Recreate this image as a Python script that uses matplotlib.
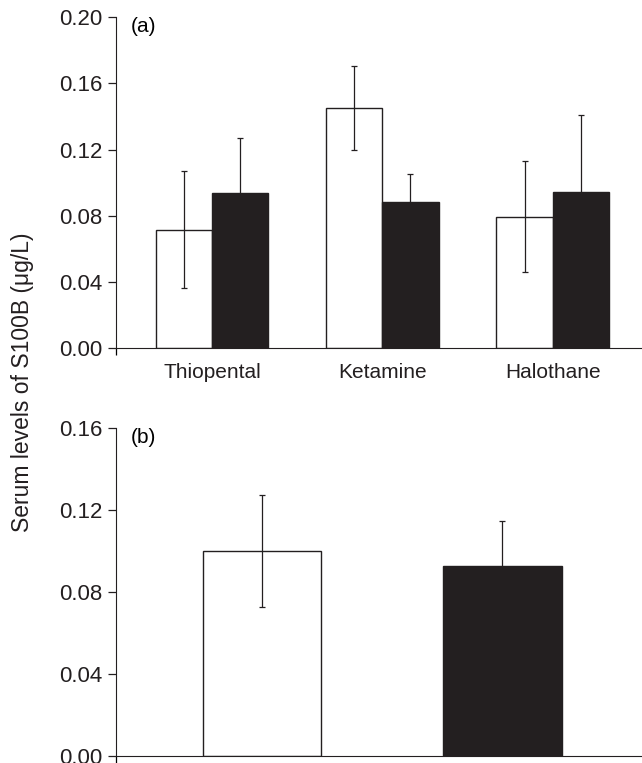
import numpy as np
import matplotlib.pyplot as plt

plt.rcParams['font.family'] = ['Liberation Sans', 'DejaVu Sans']

# panel (a)
drugs = ['Thiopental', 'Ketamine', 'Halothane']
open_mean = [0.0716, 0.1452, 0.0794]
open_err = [0.0352, 0.0256, 0.0335]
filled_mean = [0.0940, 0.0885, 0.0946]
filled_err = [0.0328, 0.0165, 0.0461]

# panel (b)
b_mean = [0.0998, 0.0925]
b_err = [0.0272, 0.0222]

dark = '#231f20'

fig = plt.figure(figsize=(6.42, 7.63), dpi=100)
ax = fig.add_axes([0.1808, 0.5439, 0.8192, 0.4334])
ax1 = fig.add_axes([0.1808, 0.0092, 0.8192, 0.4303])

x = np.arange(len(drugs))
w = 0.33
ax.bar(x - w/2, open_mean, w, color='white', edgecolor=dark, linewidth=1.0)
ax.bar(x + w/2, filled_mean, w, color=dark, edgecolor=dark, linewidth=1.0)
ax.errorbar(x - w/2, open_mean, yerr=open_err, fmt='none', ecolor=dark,
            elinewidth=0.9, capsize=2.5, capthick=0.9)
ax.errorbar(x + w/2, filled_mean, yerr=filled_err, fmt='none', ecolor=dark,
            elinewidth=0.9, capsize=2.5, capthick=0.9)
ax.set_xlim(-0.564, 2.525)
ax.set_ylim(0, 0.20)
ax.set_yticks(np.arange(0, 0.201, 0.04))
ax.set_yticklabels(['%.2f' % v for v in np.arange(0, 0.201, 0.04)])
ax.set_xticks(x)
ax.set_xticklabels(drugs)
ax.text(-0.475, 0.2, '(a)', fontsize=15, va='top', ha='left')

xb = np.arange(len(b_mean))
wb = 0.494
ax1.bar(xb[0], b_mean[0], wb, color='white', edgecolor=dark, linewidth=1.0)
ax1.bar(xb[1], b_mean[1], wb, color=dark, edgecolor=dark, linewidth=1.0)
ax1.errorbar(xb, b_mean, yerr=b_err, fmt='none', ecolor=dark,
             elinewidth=0.9, capsize=2.5, capthick=0.9)
ax1.set_xlim(-0.608, 1.582)
ax1.set_ylim(0, 0.16)
ax1.set_yticks(np.arange(0, 0.161, 0.04))
ax1.set_yticklabels(['%.2f' % v for v in np.arange(0, 0.161, 0.04)])
ax1.set_xticks([])
ax1.text(-0.545, 0.16, '(b)', fontsize=15, va='top', ha='left')

for a in (ax, ax1):
    a.spines['top'].set_visible(False)
    a.spines['right'].set_visible(False)
    a.spines['left'].set_color(dark)
    a.spines['bottom'].set_color(dark)
    a.tick_params(axis='y', direction='out', length=6, width=0.9, colors=dark,
                  labelsize=16, pad=4)
    a.tick_params(axis='x', length=0, labelsize=15, pad=11, colors=dark)
    a.set_xticks([a.get_xlim()[0]], minor=True)
    a.tick_params(axis='x', which='minor', direction='out', length=5, width=0.9)

fig.text(0.035, 0.499, 'Serum levels of S100B (\u03bcg/L)', rotation=90,
         fontsize=16.5, ha='center', va='center', color=dark)

fig.savefig('out.png', dpi=100)
